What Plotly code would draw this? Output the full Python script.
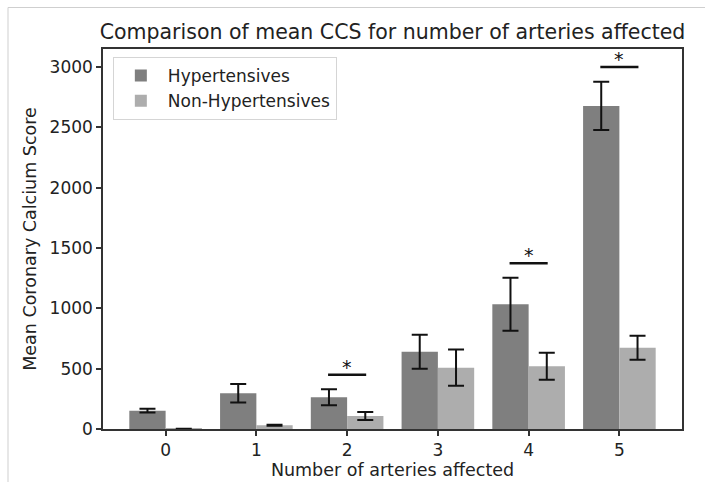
import plotly.graph_objects as go

categories = [0, 1, 2, 3, 4, 5]
hyp_mean = [152, 296, 263, 641, 1034, 2678]
hyp_err = [15, 77, 66, 141, 220, 200]
non_mean = [2, 31, 108, 508, 520, 674]
non_err = [0, 5, 33, 150, 112, 100]
sig_cats = [2, 4, 5]
sig_y = [450, 1374, 3000]
sig_half = 0.21

W, H = 705, 482
ML, MR, MT, MB = 103, 23, 49, 53
PW, PH = W - ML - MR, H - MT - MB

FONT = "DejaVu Sans"
TXT = "#222222"

fig = go.Figure()
fig.add_trace(go.Bar(
    x=categories, y=hyp_mean, name="Hypertensives",
    marker=dict(color="#7f7f7f", line=dict(width=0)),
    error_y=dict(type="data", array=hyp_err, visible=True, color="#111111", thickness=2, width=8),
    offsetgroup="a",
))
fig.add_trace(go.Bar(
    x=categories, y=non_mean, name="Non-Hypertensives",
    marker=dict(color="#adadad", line=dict(width=0)),
    error_y=dict(type="data", array=non_err, visible=True, color="#111111", thickness=2, width=8),
    offsetgroup="b",
))

for c, y in zip(sig_cats, sig_y):
    fig.add_trace(go.Scatter(
        x=[c - sig_half, c + sig_half], y=[y, y], mode="lines",
        line=dict(color="#111111", width=2.5), showlegend=False, hoverinfo="skip",
    ))
    fig.add_annotation(x=c, y=y, text="*", showarrow=False, yanchor="bottom",
                       yshift=-5, font=dict(family=FONT, size=19, color="#111111"))

# outer image frame (thin light lines at top and left)
fig.add_shape(type="line", xref="paper", yref="paper",
              x0=(8 - ML) / PW, x1=(W - ML) / PW,
              y0=(H - MB - 7.5) / PH, y1=(H - MB - 7.5) / PH,
              line=dict(color="#cfcfcf", width=1))
fig.add_shape(type="line", xref="paper", yref="paper",
              x0=(8 - ML) / PW, x1=(8 - ML) / PW,
              y0=(H - MB - 7.5) / PH, y1=(H - MB - H) / PH,
              line=dict(color="#cfcfcf", width=1))

fig.update_layout(
    width=W, height=H,
    margin=dict(l=ML, r=MR, t=MT, b=MB, autoexpand=False),
    paper_bgcolor="white", plot_bgcolor="white",
    barmode="group", bargap=0.2, bargroupgap=0,
    font=dict(family=FONT, color=TXT, size=17),
    title=dict(text="Comparison of mean CCS for number of arteries affected",
               x=(ML + PW / 2) / W, xanchor="center", y=1 - 32 / H, yanchor="middle",
               font=dict(family=FONT, size=20.5, color=TXT)),
    legend=dict(x=0.017, y=0.979, xanchor="left", yanchor="top",
                bgcolor="rgba(255,255,255,0.9)", bordercolor="#d5d5d5", borderwidth=1,
                font=dict(family=FONT, size=17, color=TXT), traceorder="normal",
                itemsizing="constant", itemwidth=44),
    showlegend=True,
)
fig.update_xaxes(
    range=[-0.69, 5.69], tickmode="array", tickvals=categories,
    ticktext=[str(c) for c in categories],
    showline=True, linecolor="#333333", linewidth=1.5, mirror=True,
    ticks="outside", ticklen=5, tickcolor="#333333", tickwidth=1.5,
    showgrid=False, zeroline=False, automargin=False,
    title=dict(text="Number of arteries affected", font=dict(family=FONT, size=17.5, color=TXT), standoff=4),
    tickfont=dict(family=FONT, size=17, color=TXT),
)
fig.update_yaxes(
    range=[0, 3150], tickmode="array", tickvals=[0, 500, 1000, 1500, 2000, 2500, 3000],
    showline=True, linecolor="#333333", linewidth=1.5, mirror=True,
    ticks="outside", ticklen=5, tickcolor="#333333", tickwidth=1.5,
    showgrid=False, zeroline=False, automargin=False,
    title=dict(text="Mean Coronary Calcium Score", font=dict(family=FONT, size=17.5, color=TXT), standoff=8),
    tickfont=dict(family=FONT, size=17, color=TXT),
)

fig.write_html("out.html", config={"displayModeBar": False},
               post_script="document.body.style.margin='0';document.body.style.overflow='hidden';")
